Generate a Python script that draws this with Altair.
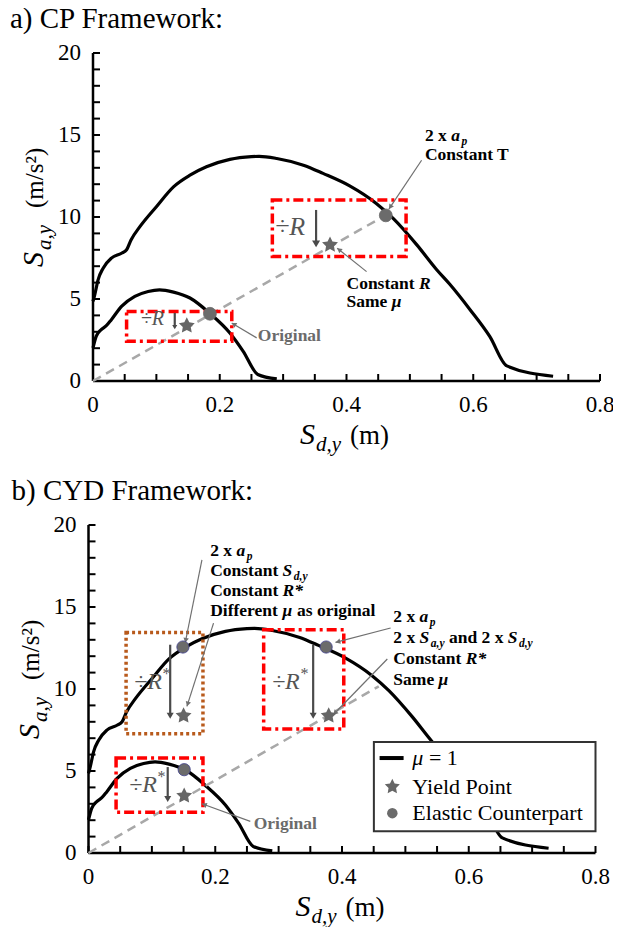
import math
import altair as alt
import pandas as pd

FONT = "Liberation Serif"

# ---------------- data ----------------
big_x = [0, 0.003, 0.008, 0.016, 0.029, 0.045, 0.053, 0.06, 0.074, 0.10, 0.127, 0.153,
         0.179, 0.216, 0.25, 0.262, 0.29, 0.332, 0.363, 0.405, 0.447, 0.474, 0.511,
         0.542, 0.563, 0.595, 0.626, 0.653, 0.726]
big_y = [4.85, 5.3, 6.17, 6.88, 7.49, 7.79, 8.0, 8.6, 9.41, 10.63, 11.84, 12.55,
         13.06, 13.51, 13.68, 13.7, 13.57, 13.16, 12.66, 11.9, 10.83, 9.9, 8.3,
         6.8, 5.9, 4.35, 2.72, 0.92, 0.29]
small_x = [0, 0.005, 0.013, 0.021, 0.029, 0.045, 0.066, 0.087, 0.105, 0.127, 0.153,
           0.1845, 0.216, 0.237, 0.26, 0.29]
small_y = [2.02, 2.72, 3.13, 3.37, 3.74, 4.55, 5.16, 5.46, 5.56, 5.42, 5.06,
           4.12, 2.93, 1.81, 0.40, 0.13]

a_circle_x = [0.1845, 0.462]
a_circle_y = [4.10, 10.10]
a_star_x = [0.148, 0.374]
a_star_y = [3.37, 8.30]
a_diag_x = [0.0, 0.466]
a_diag_y = [0.0, 10.2]

b_circle_x = [0.151, 0.149, 0.375]
b_circle_y = [5.08, 12.56, 12.56]
b_star_x = [0.151, 0.150, 0.379]
b_star_y = [3.49, 8.37, 8.37]
b_diag_x = [0.0, 0.458]
b_diag_y = [0.0, 10.16]

x_labels = [0, 0.2, 0.4, 0.6, 0.8]
y_labels = [0, 5, 10, 15, 20]
x_minor = [0, 0.05, 0.1, 0.15, 0.2, 0.25, 0.3, 0.35, 0.4, 0.45, 0.5, 0.55, 0.6, 0.65, 0.7, 0.75, 0.8]
y_minor = list(range(0, 21))

legend_labels = ["Yield Point", "Elastic Counterpart"]

# ---------------- one shared frame holding both panels ----------------
W = 507
PXX = W / 0.8
PXY = 16.4
HT = 800
YTOP = HT / PXY
OFF_A = YTOP - 20          # panel a sits on top
XB = -4.5 / PXX            # panel b axis is a few px further left

XS = alt.Scale(domain=[0, 0.8], nice=False, zero=False)
YS = alt.Scale(domain=[0, YTOP], nice=False, zero=False)


def star_path(inner=0.5):
    pts = []
    for k in range(10):
        r = 1.0 if k % 2 == 0 else inner
        a = math.radians(-90 + 36 * k)
        pts.append(f"{r * math.cos(a):.3f},{r * math.sin(a):.3f}")
    return "M" + "L".join(pts) + "Z"


STAR = star_path()


def X(f="x"):
    return alt.X(f"{f}:Q", scale=XS, axis=None)


def Y(f="y"):
    return alt.Y(f"{f}:Q", scale=YS, axis=None)


B = {' ': 250, '2': 500, 'x': 500, 'C': 722, 'o': 500, 'n': 556, 's': 389, 't': 333,
     'a': 500, 'T': 667, 'S': 556, 'm': 833, 'e': 444, 'D': 722, 'i': 278, 'f': 333,
     'r': 444, 'g': 500, 'l': 278, 'd': 556, 'O': 778, 'R': 722, 'y': 500, ',': 250,
     'p': 556, 'μ': 556, '*': 500}
BI = {' ': 250, 'a': 500, 'p': 500, 'R': 667, 'S': 556, 'd': 500, 'y': 444, ',': 250,
      'μ': 576, '*': 500}

STY = {
    'b': dict(fontWeight="bold", fontStyle="normal", fontSize=17.5, color="black"),
    'bi': dict(fontWeight="bold", fontStyle="italic", fontSize=17.5, color="black"),
    'sub': dict(fontWeight="bold", fontStyle="italic", fontSize=11.5, color="black"),
    'g': dict(fontWeight="bold", fontStyle="normal", fontSize=17.5, color="#6b6b6b"),
}


def rich_rows(blocks, xo, yo):
    rows = []
    for x0, y0c, lh, lines in blocks:
        for i, line in enumerate(lines):
            base_px = i * lh + 6
            cur = 0.0
            for txt, kind in line:
                fs = STY[kind]["fontSize"]
                table = BI if kind in ("bi", "sub") else B
                lead = len(txt) - len(txt.lstrip(" "))
                cur += lead * table[' '] * fs / 1000
                if kind == "sub":
                    cur += 1.5
                body = txt.strip(" ")
                yoff = base_px + (4 if kind == "sub" else 0)
                rows.append(dict(x=x0 + xo + cur / PXX, y=y0c + yo - yoff / PXY, t=body, k=kind))
                cur += sum(table.get(c, 500) for c in txt.lstrip(" ")) * fs / 1000
    return rows


ONE = pd.DataFrame({"k": [1]})


def ptext(txt, x, y, size, style="normal", weight="normal", angle=0, align="left",
          baseline="alphabetic", color="black"):
    return alt.Chart(ONE).mark_text(
        fontSize=size, fontStyle=style, fontWeight=weight,
        angle=angle, align=align, baseline=baseline, color=color, font=FONT
    ).encode(x=alt.value(x), y=alt.value(y), text=alt.value(txt))


def seg_chart(rows, **mk):
    df = pd.DataFrame(rows, columns=["x", "y", "x2", "y2"])
    return alt.Chart(df).mark_rule(**mk).encode(x=X(), y=Y(), x2="x2:Q", y2="y2:Q")


def build_panel(P):
    xo, yo = P["xo"], P["yo"]
    fx, fy = P["fx"], P["fy"]
    L = []
    # axes: domain lines, inward ticks, labels
    L.append(seg_chart([(xo, yo, xo, yo + 20), (xo, yo, xo + 0.8, yo)],
                       color="black", strokeWidth=2.5))
    tk = [(xo, yo + v, xo + 7 / PXX, yo + v) for v in y_minor] + \
         [(xo + v, yo, xo + v, yo + 7 / PXY) for v in x_minor]
    L.append(seg_chart(tk, color="black", strokeWidth=2))
    xl = pd.DataFrame({"x": [xo + v for v in x_labels], "y": [yo] * len(x_labels),
                       "t": ["0" if v == 0 else f"{v:.1f}" for v in x_labels]})
    L.append(alt.Chart(xl).mark_text(font=FONT, fontSize=23, baseline="top", align="center",
                                     dy=13, color="black")
             .encode(x=X(), y=Y(), text="t:N"))
    yl = pd.DataFrame({"x": [xo] * len(y_labels), "y": [yo + v for v in y_labels],
                       "t": [str(v) for v in y_labels]})
    L.append(alt.Chart(yl).mark_text(font=FONT, fontSize=23, baseline="middle", align="right",
                                     dx=-12, color="black")
             .encode(x=X(), y=Y(), text="t:N"))
    # curves
    cdf = pd.DataFrame({"x": [v + xo for v in big_x + small_x],
                        "y": [v + yo for v in big_y + small_y],
                        "c": ["big"] * len(big_x) + ["small"] * len(small_x)})
    L.append(alt.Chart(cdf).mark_line(color="black", strokeWidth=3.2, interpolate="monotone")
             .encode(x=X(), y=Y(), detail="c:N"))
    # diagonal
    L.append(alt.Chart(pd.DataFrame({"x": [v + xo for v in P["diag_x"]],
                                     "y": [v + yo for v in P["diag_y"]]}))
             .mark_line(color="#a8a8a8", strokeWidth=2.5, strokeDash=[9, 6])
             .encode(x=X(), y=Y()))
    # boxes
    for boxes, color, dash in P["boxes"]:
        df = pd.DataFrame([(a + xo, b + xo, c + yo, d + yo) for a, b, c, d in boxes],
                          columns=["x", "x2", "y", "y2"])
        L.append(alt.Chart(df).mark_rect(fillOpacity=0, stroke=color, strokeWidth=3.5,
                                         strokeDash=dash)
                 .encode(x=X(), x2="x2:Q", y=Y(), y2="y2:Q"))
    # down arrows
    da = pd.DataFrame([(a + xo, b + yo, c + yo, s) for a, b, c, s in P["darrows"]],
                      columns=["x", "y", "y2", "s"])
    L.append(alt.Chart(da).mark_rule(color="#4a4a4a", strokeWidth=2.2)
             .encode(x=X(), y=Y(), y2="y2:Q"))
    L.append(alt.Chart(da).mark_point(shape="triangle-down", filled=True, color="#4a4a4a", opacity=1)
             .encode(x=X(), y=Y("y2"), size=alt.Size("s:Q", scale=None)))
    # pointer arrows
    rows = []
    for x1, y1, x2, y2 in P["pointers"]:
        dx = (x2 - x1) * PXX
        dy = -(y2 - y1) * PXY
        ln = math.hypot(dx, dy)
        ang = math.degrees(math.atan2(dx, -dy)) % 360
        hx = x2 - (dx / ln) * 2.5 / PXX
        hy = y2 + (dy / ln) * 2.5 / PXY
        rows.append(dict(x=x1 + xo, y=y1 + yo, x2=x2 + xo, y2=y2 + yo,
                         hx=hx + xo, hy=hy + yo, ang=ang))
    pdf = pd.DataFrame(rows)
    L.append(alt.Chart(pdf).mark_rule(color="#707070", strokeWidth=1.2)
             .encode(x=X(), y=Y(), x2="x2:Q", y2="y2:Q"))
    L.append(alt.Chart(pdf).mark_point(shape="triangle-up", filled=True, color="#707070", opacity=1, size=30)
             .encode(x=X("hx"), y=Y("hy"), angle=alt.Angle("ang:Q", scale=None)))
    # markers
    L.append(alt.Chart(pd.DataFrame({"x": [v + xo for v in P["circle_x"]],
                                     "y": [v + yo for v in P["circle_y"]]}))
             .mark_point(shape="circle", filled=True, color="#6b6b6b", opacity=1, size=P["csize"],
                         stroke=P["cstroke"], strokeWidth=0.8)
             .encode(x=X(), y=Y()))
    L.append(alt.Chart(pd.DataFrame({"x": [v + xo for v in P["star_x"]],
                                     "y": [v + yo for v in P["star_y"]]}))
             .mark_point(shape=STAR, filled=True, color="#666666", opacity=1, size=280)
             .encode(x=X(), y=Y()))
    # ÷R labels
    for items, star in P["divs"]:
        df = pd.DataFrame([(a + xo, b + yo, s) for a, b, s in items], columns=["x", "y", "s"])
        L.append(alt.Chart(df).mark_text(font=FONT, fontStyle="italic", color="#555555",
                                         align="right" if star else "center", baseline="middle")
                 .encode(x=X(), y=Y(), size=alt.Size("s:Q", scale=None), text=alt.value("÷R")))
        if star:
            L.append(alt.Chart(df).mark_text(font=FONT, fontStyle="italic", color="#555555",
                                             align="left", baseline="middle", dy=-8, fontSize=16)
                     .encode(x=X(), y=Y(), text=alt.value("*")))
    # legend
    if P.get("legend"):
        lg = P["legend"]
        a, b, c, d = lg["box"]
        L.append(alt.Chart(pd.DataFrame([(a + xo, b + xo, c + yo, d + yo)], columns=["x", "x2", "y", "y2"]))
                 .mark_rect(fill="white", stroke="#333333", strokeWidth=2)
                 .encode(x=X(), x2="x2:Q", y=Y(), y2="y2:Q"))
        a, b, c = lg["line"]
        L.append(seg_chart([(a + xo, c + yo, b + xo, c + yo)], color="black", strokeWidth=4))
        L.append(alt.Chart(pd.DataFrame({"x": [lg["star"][0] + xo], "y": [lg["star"][1] + yo]}))
                 .mark_point(shape=STAR, filled=True, color="#666666", opacity=1, size=250)
                 .encode(x=X(), y=Y()))
        L.append(alt.Chart(pd.DataFrame({"x": [lg["circle"][0] + xo], "y": [lg["circle"][1] + yo]}))
                 .mark_point(shape="circle", filled=True, color="#6b6b6b", opacity=1, size=110)
                 .encode(x=X(), y=Y()))
        L.append(alt.Chart(pd.DataFrame({"x": [lg["mu"][0] + xo], "y": [lg["mu"][1] + yo]}))
                 .mark_text(font=FONT, fontStyle="italic", fontSize=22, align="left", baseline="middle", color="black")
                 .encode(x=X(), y=Y(), text=alt.value("μ")))
        L.append(alt.Chart(pd.DataFrame({"x": [lg["eq"][0] + xo], "y": [lg["eq"][1] + yo]}))
                 .mark_text(font=FONT, fontSize=22, align="left", baseline="middle", color="black")
                 .encode(x=X(), y=Y(), text=alt.value("= 1")))
        L.append(alt.Chart(pd.DataFrame({"x": [v + xo for v in lg["tx"]],
                                         "y": [v + yo for v in lg["ty"]], "t": legend_labels}))
                 .mark_text(font=FONT, fontSize=22, align="left", baseline="middle", color="black")
                 .encode(x=X(), y=Y(), text="t:N"))
    # rich annotation text
    rr = pd.DataFrame(rich_rows(P["texts"], xo, yo))
    for kind, st in STY.items():
        sub = rr[rr["k"] == kind].reset_index(drop=True)
        if len(sub) == 0:
            continue
        L.append(alt.Chart(sub).mark_text(font=FONT, align="left", baseline="alphabetic", **st)
                 .encode(x=X(), y=Y(), text="t:N"))
    # frame texts (panel title and axis titles), pixel offsets from the frame origin
    L.append(ptext(P["title"], P["title_x"], fy - 25, 29))
    L.append(ptext("S", fx - 50, fy + 214, 30, style="italic", angle=270))
    L.append(ptext("a,y", fx - 42, fy + 197, 21, style="italic", angle=270))
    L.append(ptext("(m/s²)", fx - 50, fy + 155, 25, angle=270))
    L.append(ptext("S", fx + 207, fy + 391, 30, style="italic"))
    L.append(ptext("d,y", fx + 223, fy + 398, 21, style="italic"))
    L.append(ptext("(m)", fx + 257, fy + 391, 27))
    return L


RED = "#ff0000"
BROWN = "#b85a1c"
DASHDOT = [10, 4, 3, 4]

PA = dict(
    xo=0.0, yo=OFF_A, fx=0, fy=0,
    diag_x=a_diag_x, diag_y=a_diag_y,
    boxes=[([(0.053, 0.219, 2.42, 4.24), (0.283, 0.494, 7.59, 11.03)], RED, DASHDOT)],
    darrows=[(0.129, 4.15, 3.28, 25), (0.352, 10.43, 8.36, 64)],
    pointers=[(0.5185, 13.46, 0.4669, 10.48), (0.4317, 6.67, 0.3853, 8.10),
              (0.2582, 2.63, 0.2188, 3.54)],
    circle_x=a_circle_x, circle_y=a_circle_y, csize=165, cstroke="#6b6b6b",
    star_x=a_star_x, star_y=a_star_y,
    divs=[([(0.0938, 3.8, 20), (0.311, 9.39, 26)], False)],
    texts=[
        (0.5237, 14.98, 18.3, [[("2 x ", "b"), ("a", "bi"), ("p", "sub")], [("Constant T", "b")]]),
        (0.400, 5.97, 18.4, [[("Constant ", "b"), ("R", "bi")], [("Same ", "b"), ("μ", "bi")]]),
        (0.260, 2.83, 0, [[("Original", "g")]]),
    ],
    title="a) CP Framework:", title_x=-83,
)

PB = dict(
    xo=XB, yo=0.0, fx=-4.5, fy=472,
    diag_x=b_diag_x, diag_y=b_diag_y,
    boxes=[([(0.0435, 0.1806, 2.48, 5.79), (0.2764, 0.4028, 7.56, 13.62)], RED, DASHDOT),
           ([(0.0593, 0.1806, 7.27, 13.45)], BROWN, [3, 3])],
    darrows=[(0.125, 5.24, 3.29, 49), (0.1289, 12.70, 8.37, 49), (0.3545, 12.70, 8.37, 49)],
    pointers=[(0.179, 17.88, 0.1526, 12.82), (0.1973, 14.02, 0.1553, 8.94),
              (0.4767, 13.72, 0.3897, 12.84), (0.4715, 11.83, 0.3861, 8.43),
              (0.2553, 1.93, 0.179, 3.0)],
    circle_x=b_circle_x, circle_y=b_circle_y, csize=150, cstroke="#3f3f8a",
    star_x=b_star_x, star_y=b_star_y,
    divs=[([(0.1078, 4.12, 24), (0.1157, 10.41, 24), (0.3333, 10.41, 24)], True)],
    legend=dict(box=(0.4503, 0.8, 1.32, 6.77), line=(0.4593, 0.4972, 5.79),
                star=(0.4794, 4.04), circle=(0.4794, 2.43), mu=(0.511, 5.79), eq=(0.5372, 5.79),
                tx=[0.511, 0.511], ty=[4.04, 2.43]),
    texts=[
        (0.192, 18.49, 20.2, [[("2 x ", "b"), ("a", "bi"), ("p", "sub")],
                              [("Constant ", "b"), ("S", "bi"), ("d,y", "sub")],
                              [("Constant ", "b"), ("R*", "bi")],
                              [("Different ", "b"), ("μ", "bi"), (" as original", "b")]]),
        (0.481, 14.43, 20.9, [[("2 x ", "b"), ("a", "bi"), ("p", "sub")],
                              [("2 x ", "b"), ("S", "bi"), ("a,y", "sub"), (" and 2 x ", "b"),
                               ("S", "bi"), ("d,y", "sub")],
                              [("Constant ", "b"), ("R*", "bi")],
                              [("Same ", "b"), ("μ", "bi")]]),
        (0.2606, 1.83, 0, [[("Original", "g")]]),
    ],
    title="b) CYD Framework:", title_x=-81.5,
)

layers = build_panel(PA) + build_panel(PB)

chart = alt.layer(*layers).properties(
    width=W, height=HT,
    padding={"left": 85, "top": 45, "right": 13, "bottom": 74},
    autosize=alt.AutoSizeParams(type="none"),
).configure_view(strokeWidth=0, strokeOpacity=0)

chart.save("out.html", embed_options={"renderer": "svg", "actions": False})
